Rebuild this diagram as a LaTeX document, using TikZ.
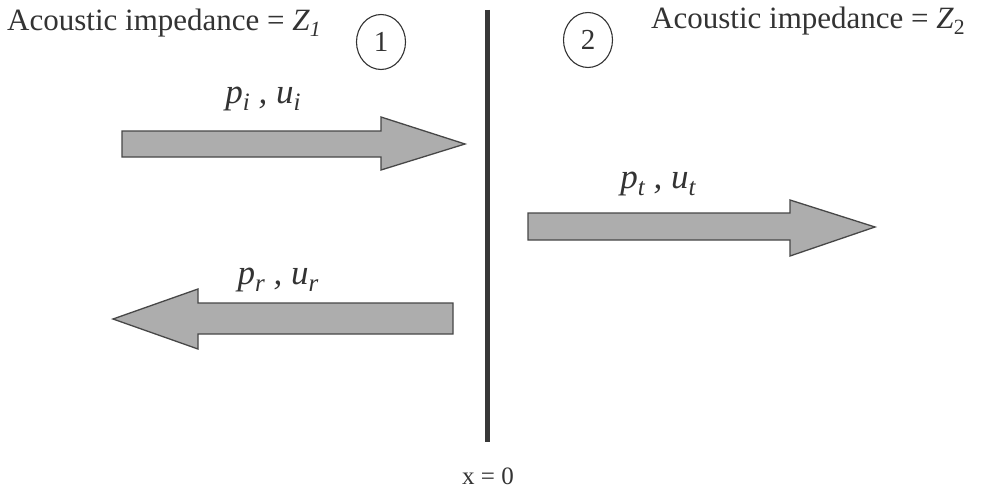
\documentclass[tikz,border=0pt]{standalone}
\usepackage{fontspec}
\setmainfont{Liberation Serif}
\usetikzlibrary{shapes.geometric}
\newcommand\lsub[1]{\raisebox{-0.2em}{\fontsize{25}{25}\selectfont\itshape #1}}
\begin{document}
\begin{tikzpicture}[x=1pt,y=-1pt,
  arrowbody/.style={fill=black!32, draw=black!72, line width=1.3pt, line join=miter},
  lbl/.style={font=\fontsize{35}{37}\selectfont\itshape, inner sep=0pt, text=black!80},
  title/.style={font=\fontsize{31}{33}\selectfont, inner sep=0pt, text=black!80},
  num/.style={ellipse, draw=black!80, line width=1.1pt, minimum width=49pt, minimum height=55pt, inner sep=0pt, font=\fontsize{29}{31}\selectfont, text=black!80},
  wall/.style={line width=5pt, draw=black!78}]
\useasboundingbox (0,0) rectangle (981,492);
\fill[white] (0,0) rectangle (981,492);
% wall
\coordinate (wtop) at (487,10);
\coordinate (wbot) at (487,442);
\draw[wall] (wtop) -- (wbot);
% titles
\node[title, anchor=west] (t1) at (7,23) {Acoustic impedance = \textit{Z}\textsubscript{\textit{1}}};
\node[title, anchor=west] (t2) at (651,21) {Acoustic impedance = \textit{Z}\textsubscript{2}};
\node[num] (n1) at (381,42) {1};
\node[num] (n2) at (588,40) {2};
% arrows
\draw[arrowbody] (122,131) -- (381,131) -- (381,117) -- (465,144) -- (381,170) -- (381,157) -- (122,157) -- cycle;
\draw[arrowbody] (528,213) -- (790,213) -- (790,200) -- (875,227) -- (790,256) -- (790,240) -- (528,240) -- cycle;
\draw[arrowbody] (453,303) -- (198,303) -- (198,289) -- (113,319) -- (198,349) -- (198,334) -- (453,334) -- cycle;
% labels
\node[lbl] (li) at (263,99) {p\lsub{i}\hspace{0.25em},\hspace{0.25em}u\lsub{i}};
\node[lbl] (lt) at (658,184) {p\lsub{t}\hspace{0.25em},\hspace{0.25em}u\lsub{t}};
\node[lbl] (lr) at (278,280) {p\lsub{r}\hspace{0.25em},\hspace{0.25em}u\lsub{r}};
\node[font=\fontsize{25}{27}\selectfont, inner sep=0pt, text=black!80] (x0) at (488,476) {x = 0};
\end{tikzpicture}
\end{document}
